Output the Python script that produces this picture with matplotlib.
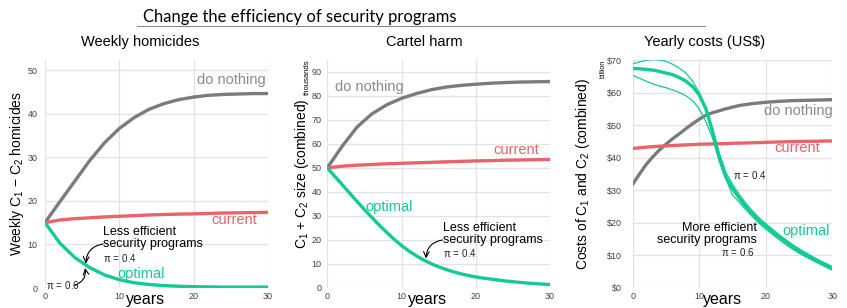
import matplotlib
matplotlib.use("Agg")
import matplotlib.pyplot as plt
from matplotlib.lines import Line2D
import matplotlib.transforms as mtransforms

plt.rcParams['font.family'] = ['Liberation Sans', 'DejaVu Sans']
plt.rcParams['mathtext.fontset'] = 'custom'
plt.rcParams['mathtext.rm'] = 'Liberation Sans'
plt.rcParams['mathtext.it'] = 'Liberation Sans:italic'
plt.rcParams['mathtext.default'] = 'regular'

# colours
GRAY = '#7b7b7b'
RED = '#e8646a'
GREEN = '#12c997'

# ---- data ----
years = list(range(31))
years2 = [0, 2, 4, 6, 8, 10, 12, 14, 16, 18, 20, 22, 24, 26, 28, 30]

# weekly homicides
hom_nothing = [15, 19.8, 24.5, 29.2, 33.3, 36.6, 39.1, 41.0, 42.3, 43.2, 43.8, 44.2, 44.4, 44.5, 44.6, 44.6]
hom_current = [15, 15.6, 15.9, 16.1, 16.3, 16.45, 16.6, 16.75, 16.85, 16.95, 17.0, 17.1, 17.2, 17.25, 17.3, 17.35]
hom_optimal = [15, 10.3, 7.0, 4.7, 3.0, 1.9, 1.2, 0.8, 0.55, 0.4, 0.3, 0.25, 0.2, 0.2, 0.2, 0.2]

# cartel size (thousands)
size_nothing = [50, 59, 67, 72.5, 76.3, 79, 81, 82.6, 83.7, 84.4, 84.9, 85.3, 85.6, 85.8, 85.9, 86.0]
size_current = [50, 50.7, 51.1, 51.4, 51.7, 51.9, 52.1, 52.3, 52.5, 52.7, 52.9, 53.0, 53.2, 53.3, 53.4, 53.5]
size_optimal = [50, 46.5, 43, 39.5, 36, 32.6, 29.3, 26.1, 23.1, 20.2, 17.6, 15.3, 13.3, 11.5, 10.0, 8.7,
                7.6, 6.6, 5.8, 5.1, 4.5, 4.0, 3.6, 3.2, 2.8, 2.5, 2.2, 1.9, 1.7, 1.5, 1.3]

# yearly costs (billion US$)
cost_nothing = [31.8, 34.9, 37.8, 40.2, 42.3, 44.1, 45.8, 47.3, 48.9, 50.4, 51.8, 53.0, 53.8, 54.4, 55.0, 55.5,
                56.0, 56.3, 56.6, 56.8, 57.0, 57.15, 57.3, 57.4, 57.5, 57.55, 57.6, 57.65, 57.7, 57.75, 57.8]
cost_current = [42.8, 43.0, 43.2, 43.35, 43.5, 43.6, 43.7, 43.8, 43.9, 44.0, 44.1, 44.15, 44.2, 44.25, 44.3, 44.4,
                44.45, 44.5, 44.55, 44.6, 44.7, 44.75, 44.8, 44.85, 44.9, 44.95, 45.0, 45.0, 45.05, 45.1, 45.1]
cost_optimal = [67.4, 67.3, 67.1, 66.9, 66.5, 66.0, 65.5, 64.6, 63.5, 61.8, 59.3, 55.0, 48.0, 40.0, 34.0, 30.5,
                27.6, 25.0, 22.7, 20.6, 18.9, 17.2, 15.6, 14.1, 12.6, 11.3, 10.1, 9.0, 7.9, 6.9, 5.8]
cost_opt_hi = [68.8, 69.4, 69.9, 70.1, 70.0, 69.6, 68.7, 67.5, 66.0, 63.5, 60.0, 55.5, 49.0, 41.5, 35.5, 31.8,
               28.7, 26.0, 23.6, 21.5, 19.7, 18.0, 16.3, 14.8, 13.3, 12.0, 10.8, 9.6, 8.5, 7.5, 6.5]
cost_opt_lo = [65.3, 64.4, 63.5, 62.7, 62.0, 61.5, 60.8, 60.0, 59.0, 57.5, 55.0, 51.0, 46.0, 39.0, 33.5, 28.5,
               26.3, 24.0, 21.8, 19.8, 18.0, 16.4, 14.8, 13.3, 11.9, 10.6, 9.5, 8.4, 7.4, 6.4, 5.4]

W, H = 847, 308
fig = plt.figure(figsize=(W / 100, H / 100), dpi=100)


def px_axes(x0, x1, y0, y1):
    return fig.add_axes([x0 / W, 1 - y1 / H, (x1 - x0) / W, (y1 - y0) / H])


def style(ax, ymax, yticks, ylabels, ypad):
    ax.set_xlim(0, 30)
    ax.set_ylim(0, ymax)
    ax.set_xticks([0, 10, 20, 30])
    ax.set_yticks(yticks)
    ax.set_yticklabels(ylabels)
    for s in ax.spines.values():
        s.set_visible(False)
    ax.grid(True, color='#e2e2e2', lw=0.9)
    ax.set_axisbelow(True)
    ax.tick_params(axis='both', length=0, labelsize=6.5, labelcolor='#444444')
    ax.tick_params(axis='y', pad=ypad)
    ax.tick_params(axis='x', pad=3)
    tr = mtransforms.blended_transform_factory(ax.transData, ax.transAxes)
    ax.text(13.5, -0.052, 'years', transform=tr, ha='center', va='center', fontsize=11.5)


lw = 2.4
pi_kw = dict(fontsize=7, math_fontfamily='cm', color='#222222')
arr_kw = dict(arrowstyle='->', color='black', lw=0.8, shrinkA=0, shrinkB=0)

# ---- panel 1 ----
ax1 = px_axes(45, 268, 60, 288)
style(ax1, 52.3, [0, 10, 20, 30, 40, 50], ['0', '10', '20', '30', '40', '50'], 5.5)
ax1.plot(years2, hom_nothing, color=GRAY, lw=lw, solid_capstyle='round')
ax1.plot(years2, hom_current, color=RED, lw=lw, solid_capstyle='round')
ax1.plot(years2, hom_optimal, color=GREEN, lw=lw, solid_capstyle='round')
ax1.text(29.7, 47.7, 'do nothing', color='#8a8a8a', fontsize=10.5, ha='right', va='center')
ax1.text(28.5, 15.6, 'current', color=RED, fontsize=10.5, ha='right', va='center')
ax1.text(9.8, 3.3, 'optimal', color=GREEN, fontsize=10.5, ha='left', va='center')
ax1.text(7.8, 11.5, 'Less efficient\nsecurity programs', fontsize=9, ha='left', va='center', linespacing=1.0)
ax1.text(7.8, 6.9, r'$\pi\,=\,0.4$', ha='left', va='center', **pi_kw)
ax1.text(0.2, 0.6, r'$\pi\,=\,0.6$', ha='left', va='center', **pi_kw)
ax1.annotate('', xy=(5.5, 5.6), xytext=(7.8, 10.1),
             arrowprops=dict(connectionstyle='arc3,rad=0.4', **arr_kw))
ax1.annotate('', xy=(5.4, 4.6), xytext=(4.0, 0.6),
             arrowprops=dict(connectionstyle='arc3,rad=0.4', **arr_kw))

# ---- panel 2 ----
ax2 = px_axes(327.3, 550, 60, 287.7)
style(ax2, 95, [0, 10, 20, 30, 40, 50, 60, 70, 80, 90],
      ['0', '10', '20', '30', '40', '50', '60', '70', '80', '90'], 4)
ax2.plot(years2, size_nothing, color=GRAY, lw=lw, solid_capstyle='round')
ax2.plot(years2, size_current, color=RED, lw=lw, solid_capstyle='round')
ax2.plot(years, size_optimal, color=GREEN, lw=lw, solid_capstyle='round')
ax2.text(1.0, 83.6, 'do nothing', color='#8a8a8a', fontsize=10.5, ha='left', va='center')
ax2.text(28.5, 57.4, 'current', color=RED, fontsize=10.5, ha='right', va='center')
ax2.text(5.1, 33.6, 'optimal', color=GREEN, fontsize=10.5, ha='left', va='center')
ax2.text(15.6, 22.4, 'Less efficient\nsecurity programs', fontsize=9, ha='left', va='center', linespacing=1.0)
ax2.text(15.6, 14.5, r'$\pi\,=\,0.4$', ha='left', va='center', **pi_kw)
ax2.annotate('', xy=(13.3, 12.2), xytext=(15.5, 19.9),
             arrowprops=dict(connectionstyle='arc3,rad=0.4', **arr_kw))

# ---- panel 3 ----
ax3 = px_axes(632.7, 832.3, 60, 287.7)
style(ax3, 70, [0, 10, 20, 30, 40, 50, 60, 70],
      ['$0', '$10', '$20', '$30', '$40', '$50', '$60', '$70'], 8)
ax3.plot(years, cost_nothing, color=GRAY, lw=lw, solid_capstyle='round')
ax3.plot(years, cost_current, color=RED, lw=lw, solid_capstyle='round')
ax3.plot(years, cost_opt_hi, color=GREEN, lw=0.9)
ax3.plot(years, cost_opt_lo, color=GREEN, lw=0.9)
ax3.plot(years, cost_optimal, color=GREEN, lw=lw, solid_capstyle='round')
ax3.text(30, 54.3, 'do nothing', color='#8a8a8a', fontsize=10.5, ha='right', va='center')
ax3.text(28.2, 42.9, 'current', color=RED, fontsize=10.5, ha='right', va='center')
ax3.text(29.6, 17.4, 'optimal', color=GREEN, fontsize=10.5, ha='right', va='center')
ax3.text(18.7, 16.5, 'More efficient\nsecurity programs', fontsize=9, ha='right', va='center',
         linespacing=1.0, multialignment='right')
ax3.text(18.4, 11.0, r'$\pi\,=\,0.6$', ha='right', va='center', **pi_kw)
ax3.text(15.1, 34.6, r'$\pi\,=\,0.4$', ha='left', va='center', **pi_kw)

# ---- titles / labels ----
fig.text(143 / W, 1 - 17 / H, 'Change the efficiency of security programs', fontsize=12,
         family=['Lato', 'DejaVu Sans'], ha='left', va='center')
fig.add_artist(Line2D([137 / W, 705 / W], [1 - 25.5 / H, 1 - 25.5 / H], color='#8a8a8a', lw=0.8))

for x, t in [(140, 'Weekly homicides'), (424, 'Cartel harm'), (705, 'Yearly costs (US$)')]:
    fig.text(x / W, 1 - 42 / H, t, fontsize=10.5, ha='center', va='center')

ylab = [(17, 'Weekly C$_1$ − C$_2$ homicides'), (302, 'C$_1$ + C$_2$ size (combined)'),
        (583, 'Costs of C$_1$ and C$_2$ (combined)')]
for x, t in ylab:
    fig.text(x / W, 1 - 174 / H, t, fontsize=10, rotation=90, ha='center', va='center')

fig.text(307 / W, 1 - 77 / H, 'thousands', fontsize=5.5, rotation=90, ha='center', va='center')
fig.text(603 / W, 1 - 69 / H, 'billion', fontsize=5, rotation=90, ha='center', va='center')

fig.savefig('out.png', dpi=100)
